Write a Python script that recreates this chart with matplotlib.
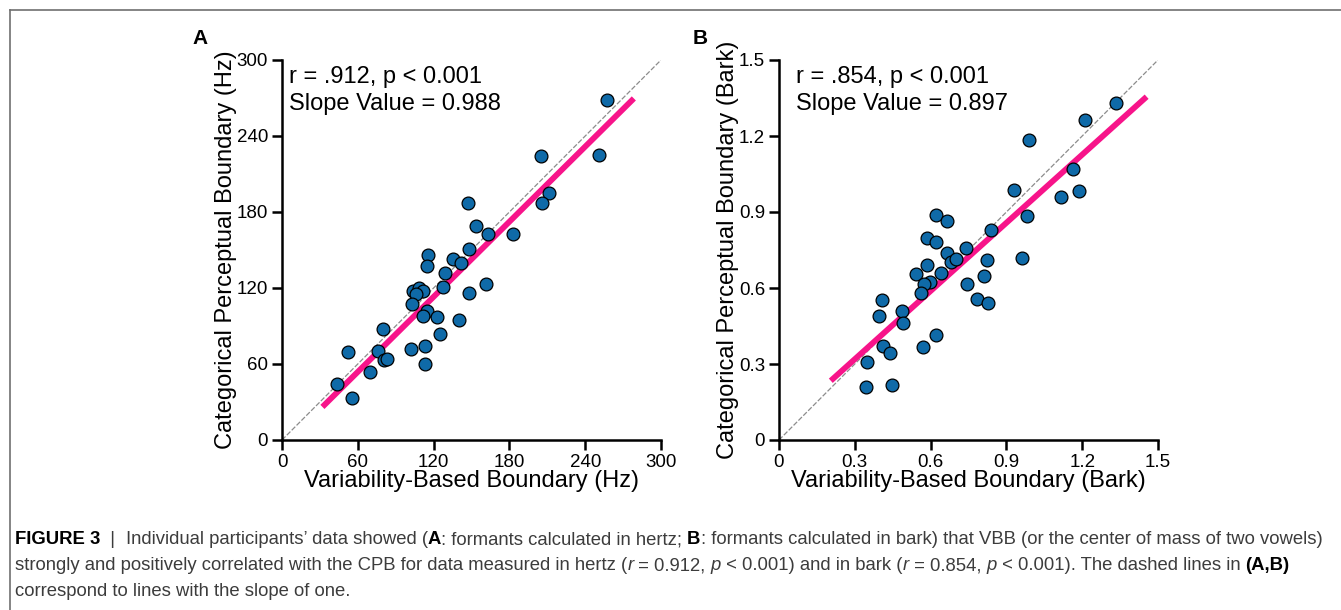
import matplotlib
matplotlib.use("Agg")
import matplotlib.pyplot as plt
import numpy as np
from matplotlib.lines import Line2D

plt.rcParams['font.family'] = ['Liberation Sans', 'DejaVu Sans']

# panel A: hertz
hz_vbb = [257, 205, 251, 211, 206, 147, 153.6, 163, 182.6, 148, 115.3, 114.8, 135,
          141.7, 128.8, 127.7, 161.7, 148, 103.4, 108.7, 112, 106, 102.6, 114.8,
          111.3, 122.4, 140.4, 124.8, 79.7, 75.7, 81, 83, 52.5, 101.8, 113.5, 113,
          69.7, 43.8, 55.4]
hz_cpb = [268.4, 224, 225, 195, 187, 187, 169, 162.6, 163, 150.5, 146, 137.6, 143,
          140, 131.6, 121, 123, 116, 118, 119.7, 118, 115, 107.4, 102, 98, 97, 94.7,
          84, 87.6, 70, 63, 64, 69.7, 72, 74.5, 60, 53.7, 44, 33.4]
# panel B: bark
bark_vbb = [1.335, 1.210, 0.988, 1.164, 1.187, 1.115, 0.930, 0.982, 0.960, 0.620,
            0.666, 0.586, 0.620, 0.840, 0.666, 0.739, 0.682, 0.702, 0.825, 0.544,
            0.642, 0.586, 0.596, 0.574, 0.810, 0.744, 0.563, 0.782, 0.828, 0.408,
            0.394, 0.486, 0.491, 0.623, 0.570, 0.410, 0.438, 0.348, 0.346, 0.449]
bark_cpb = [1.330, 1.264, 1.185, 1.071, 0.982, 0.958, 0.987, 0.886, 0.717, 0.887,
            0.863, 0.798, 0.781, 0.827, 0.737, 0.758, 0.703, 0.715, 0.711, 0.656,
            0.658, 0.690, 0.625, 0.616, 0.649, 0.616, 0.580, 0.555, 0.539, 0.552,
            0.488, 0.509, 0.463, 0.413, 0.367, 0.371, 0.344, 0.309, 0.209, 0.218]

# fitted lines (slope, intercept, x range)
fit_hz = (0.988, -5.5, [32, 278.5])
fit_bark = (0.897, 0.05, [0.205, 1.455])

ticks_hz = [0, 60, 120, 180, 240, 300]
ticks_bark = [0, 0.3, 0.6, 0.9, 1.2, 1.5]
tick_lab_bark = ['0', '0.3', '0.6', '0.9', '1.2', '1.5']

W, H = 1341, 610
fig = plt.figure(figsize=(W / 100, H / 100), dpi=100)

pink = '#F7148A'
blue = '#0F6AA8'


def px(x, y):
    return x / W, 1 - y / H


def panel(rect, xs, ys, fit, ticks, ticklabs, unit, stats, letter, letter_xy, txt_x):
    ax = fig.add_axes(rect)
    lim = ticks[-1]
    # slope-of-one reference line
    ax.plot([0, lim], [0, lim], color='#8c8c8c', lw=0.9, ls=(0, (4, 1.5)), zorder=1)
    s, b, xr = fit
    xr = np.array(xr)
    ax.plot(xr, s * xr + b, color=pink, lw=4.2, solid_capstyle='butt', zorder=2)
    ax.scatter(xs, ys, s=85, c=blue, edgecolors='black', linewidths=0.9, zorder=3)
    ax.set_xlim(0, lim)
    ax.set_ylim(0, lim)
    ax.set_xticks(ticks)
    ax.set_yticks(ticks)
    ax.set_xticklabels(ticklabs)
    ax.set_yticklabels(ticklabs)
    for sp in ['top', 'right']:
        ax.spines[sp].set_visible(False)
    for sp in ['left', 'bottom']:
        ax.spines[sp].set_linewidth(1.8)
    ax.tick_params(direction='out', length=7, width=1.8, labelsize=13.5, pad=3)
    ax.set_xlabel('Variability-Based Boundary (%s)' % unit, fontsize=17, labelpad=-1)
    ax.set_ylabel('Categorical Perceptual Boundary (%s)' % unit, fontsize=17, labelpad=0)
    ax.text(txt_x, 0.955, stats[0], transform=ax.transAxes, fontsize=17, va='center')
    ax.text(txt_x, 0.884, stats[1], transform=ax.transAxes, fontsize=17, va='center')
    fig.text(*px(*letter_xy), letter, fontsize=15, fontweight='bold', ha='center', va='center')
    return ax


panel([282 / W, 1 - 440 / H, 379 / W, 380 / H], hz_vbb, hz_cpb, fit_hz, ticks_hz,
      [str(t) for t in ticks_hz], 'Hz', ['r = .912, p < 0.001', 'Slope Value = 0.988'],
      'A', (200, 38), 0.018)
panel([779 / W, 1 - 440 / H, 379 / W, 380 / H], bark_vbb, bark_cpb, fit_bark, ticks_bark,
      tick_lab_bark, 'Bark', ['r = .854, p < 0.001', 'Slope Value = 0.897'],
      'B', (700, 38), 0.045)

# frame lines
fig.add_artist(Line2D([9.5 / W, 1], [1 - 10 / H, 1 - 10 / H], color='#707070', lw=1.2,
                      transform=fig.transFigure))
fig.add_artist(Line2D([9.5 / W, 9.5 / W], [0, 1 - 10 / H], color='#707070', lw=1.2,
                      transform=fig.transFigure))

# caption
cap_size = 13.3
grey = '#3c3c3c'
lines = [
    [('FIGURE 3', 'bold', 'normal', 'black'), ('  |  ', 'normal', 'normal', grey),
     ('Individual participants\u2019 data showed (', 'normal', 'normal', grey),
     ('A', 'bold', 'normal', 'black'),
     (': formants calculated in hertz; ', 'normal', 'normal', grey),
     ('B', 'bold', 'normal', 'black'),
     (': formants calculated in bark) that VBB (or the center of mass of two vowels)', 'normal', 'normal', grey)],
    [('strongly and positively correlated with the CPB for data measured in hertz (', 'normal', 'normal', grey),
     ('r', 'normal', 'italic', grey), (' = 0.912, ', 'normal', 'normal', grey),
     ('p', 'normal', 'italic', grey), (' < 0.001) and in bark (', 'normal', 'normal', grey),
     ('r', 'normal', 'italic', grey), (' = 0.854, ', 'normal', 'normal', grey),
     ('p', 'normal', 'italic', grey),
     (' < 0.001). The dashed lines in ', 'normal', 'normal', grey),
     ('(A,B)', 'bold', 'normal', 'black')],
    [('correspond to lines with the slope of one.', 'normal', 'normal', grey)],
]
line_y = [540, 566, 592]

renderer = fig.canvas.get_renderer()
for parts, yy in zip(lines, line_y):
    x0 = 15.0
    for txt, wt, st, col in parts:
        t = fig.text(x0 / W, 1 - yy / H, txt, fontsize=cap_size, fontweight=wt,
                     fontstyle=st, color=col, va='center', ha='left')
        x0 += t.get_window_extent(renderer).width

fig.savefig('out.png', dpi=100)
